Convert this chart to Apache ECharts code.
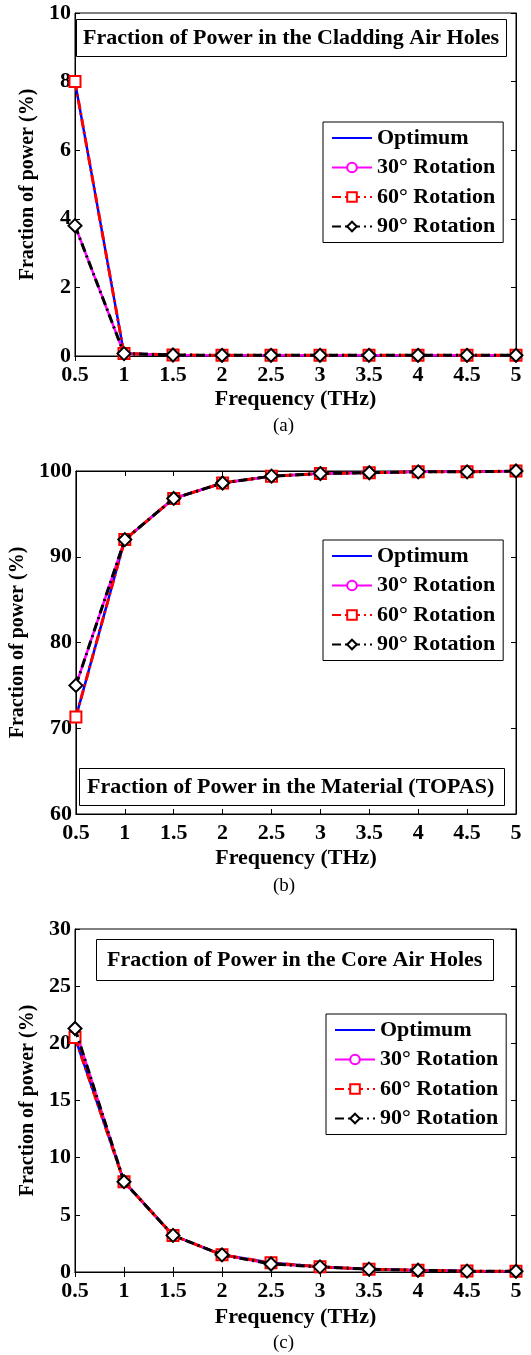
<!DOCTYPE html>
<html>
<head>
<meta charset="utf-8">
<script src="https://cdn.jsdelivr.net/npm/echarts@6/dist/echarts.min.js"></script>
<style>
html,body{margin:0;padding:0;background:#fff;}
#chart{width:531px;height:1355px;}
</style>
</head>
<body>
<div id="chart"></div>
<script>
// ---- data ----
const freq = [0.5, 1, 1.5, 2, 2.5, 3, 3.5, 4, 4.5, 5];
const seriesNames = ['Optimum', '30° Rotation', '60° Rotation', '90° Rotation'];

// (a) Fraction of power in the cladding air holes
const cladOptimum = [8.0, 0.07, 0.03, 0.02, 0.02, 0.02, 0.02, 0.02, 0.02, 0.02];
const clad30      = [3.8, 0.07, 0.03, 0.02, 0.02, 0.02, 0.02, 0.02, 0.02, 0.02];
const clad60      = [8.0, 0.07, 0.03, 0.02, 0.02, 0.02, 0.02, 0.02, 0.02, 0.02];
const clad90      = [3.8, 0.07, 0.03, 0.02, 0.02, 0.02, 0.02, 0.02, 0.02, 0.02];

// (b) Fraction of power in the material (TOPAS)
const matOptimum = [71.3, 92.0, 96.8, 98.6, 99.4, 99.7, 99.8, 99.9, 99.9, 100.0];
const mat30      = [75.0, 92.0, 96.8, 98.6, 99.4, 99.7, 99.8, 99.9, 99.9, 100.0];
const mat60      = [71.3, 92.0, 96.8, 98.6, 99.4, 99.7, 99.8, 99.9, 99.9, 100.0];
const mat90      = [75.0, 92.0, 96.8, 98.6, 99.4, 99.7, 99.8, 99.9, 99.9, 100.0];

// (c) Fraction of power in the core air holes
const coreOptimum = [20.5, 7.9, 3.2, 1.5, 0.8, 0.45, 0.25, 0.15, 0.08, 0.06];
const core30      = [21.3, 7.9, 3.2, 1.5, 0.7, 0.45, 0.25, 0.15, 0.08, 0.06];
const core60      = [20.5, 7.9, 3.2, 1.5, 0.8, 0.45, 0.25, 0.15, 0.08, 0.06];
const core90      = [21.3, 7.9, 3.2, 1.5, 0.7, 0.45, 0.25, 0.15, 0.08, 0.06];

const panelTitles = ['Fraction of Power in the Cladding Air Holes',
                     'Fraction of Power in the Material (TOPAS)',
                     'Fraction of Power in the Core Air Holes'];
const captions = ['(a)', '(b)', '(c)'];
const xTitle = 'Frequency (THz)';
const yTitle = 'Fraction of power (%)';
const yRanges = [[0, 10, 2], [60, 100, 10], [0, 30, 5]];
const xRange = [0.5, 5, 0.5];

const panelData = [
  [cladOptimum, clad30, clad60, clad90],
  [matOptimum, mat30, mat60, mat90],
  [coreOptimum, core30, core60, core90]
];

// ---- layout / style ----
const FONT = '"Liberation Serif", "Times New Roman", serif';
const gridTops = [13, 471, 929];
const gridH = 343;
const gridLeft = 75, gridRight = 15;

const styles = [
  {color: '#0000ff', type: 'solid', symbol: 'none', size: 0, width: 2.5},
  {color: '#ff00ff', type: 'solid', symbol: 'emptyCircle', size: 8, width: 2.5},
  {color: '#ff0000', type: [9, 4, 2, 4], symbol: 'emptyRect', size: 11, width: 3},
  {color: '#000000', type: [9, 4, 2, 4], symbol: 'emptyDiamond', size: 13, width: 3}
];

const titleBoxes = [
  {left: 76, top: 19, padding: [8, 8, 8, 7]},
  {left: 79, top: 768, padding: [8, 10, 8, 8]},
  {left: 96, top: 939, padding: [10, 11, 10, 11]}
];
const legendPos = [
  {left: 323, top: 122},
  {left: 323, top: 540},
  {left: 326, top: 1014}
];
const captionTops = [417, 877, 1334];
const xNameGaps = [32, 33, 34];

const grids = [], xAxes = [], yAxes = [], series = [], titles = [], legends = [];
const tickStyle = {show: true, inside: true, length: 5, lineStyle: {color: '#000', width: 1}};
const lineStyle = {show: true, lineStyle: {color: '#000', width: 1}};

for (let p = 0; p < 3; p++) {
  grids.push({left: gridLeft, right: gridRight, top: gridTops[p], height: gridH,
              show: true, borderColor: '#000', borderWidth: 1, backgroundColor: '#fff'});
  xAxes.push({gridIndex: p, type: 'value', position: 'bottom',
    min: xRange[0], max: xRange[1], interval: xRange[2],
    axisLine: lineStyle, axisTick: tickStyle, splitLine: {show: false},
    axisLabel: {color: '#000', fontFamily: FONT, fontWeight: 'bold', fontSize: 22, margin: 8},
    name: xTitle, nameLocation: 'middle', nameGap: xNameGaps[p],
    nameTextStyle: {color: '#000', fontFamily: FONT, fontWeight: 'bold', fontSize: 22}});
  xAxes.push({gridIndex: p, type: 'value', position: 'top',
    min: xRange[0], max: xRange[1], interval: xRange[2],
    axisLine: lineStyle, axisTick: tickStyle, splitLine: {show: false},
    axisLabel: {show: false}});
  yAxes.push({gridIndex: p, type: 'value', position: 'left',
    min: yRanges[p][0], max: yRanges[p][1], interval: yRanges[p][2],
    axisLine: lineStyle, axisTick: tickStyle, splitLine: {show: false},
    axisLabel: {color: '#000', fontFamily: FONT, fontWeight: 'bold', fontSize: 22, margin: 4},
    name: yTitle, nameLocation: 'middle', nameGap: 36, nameRotate: 90,
    nameTextStyle: {color: '#000', fontFamily: FONT, fontWeight: 'bold', fontSize: 20}});
  yAxes.push({gridIndex: p, type: 'value', position: 'right',
    min: yRanges[p][0], max: yRanges[p][1], interval: yRanges[p][2],
    axisLine: lineStyle, axisTick: tickStyle, splitLine: {show: false},
    axisLabel: {show: false}});

  for (let s = 0; s < 4; s++) {
    const st = styles[s];
    series.push({
      type: 'line', name: seriesNames[s],
      xAxisIndex: 2 * p, yAxisIndex: 2 * p,
      data: freq.map((f, i) => [f, panelData[p][s][i]]),
      symbol: st.symbol, symbolSize: st.size, showSymbol: st.symbol !== 'none',
      lineStyle: {color: st.color, width: st.width, type: st.type},
      itemStyle: {color: st.color, borderColor: st.color, borderWidth: 2.5},
      z: 2 + s, animation: false, silent: true
    });
  }

  titles.push({text: panelTitles[p], left: titleBoxes[p].left, top: titleBoxes[p].top,
    padding: titleBoxes[p].padding, borderColor: '#000', borderWidth: 1, backgroundColor: '#fff',
    textStyle: {color: '#000', fontFamily: FONT, fontWeight: 'bold', fontSize: 22, lineHeight: 22}});
  titles.push({text: captions[p], left: 273, top: captionTops[p], padding: 0,
    textStyle: {color: '#000', fontFamily: FONT, fontWeight: 'normal', fontSize: 19}});

  legends.push({
    data: seriesNames.map((n, i) => i === 0 ? {name: n, itemStyle: {opacity: 0}} : {name: n}),
    orient: 'vertical',
    left: legendPos[p].left, top: legendPos[p].top,
    padding: [5, 8, 5, 8], itemGap: 7.5, itemWidth: 40, itemHeight: 12,
    borderColor: '#000', borderWidth: 1, backgroundColor: '#fff',
    textStyle: {color: '#000', fontFamily: FONT, fontWeight: 'bold', fontSize: 22, lineHeight: 22},
    selectedMode: false});
}

const chart = echarts.init(document.getElementById('chart'), null, {renderer: 'canvas'});
chart.setOption({
  backgroundColor: '#fff',
  animation: false,
  title: titles,
  legend: legends,
  grid: grids,
  xAxis: xAxes,
  yAxis: yAxes,
  series: series
});
</script>
</body>
</html>
